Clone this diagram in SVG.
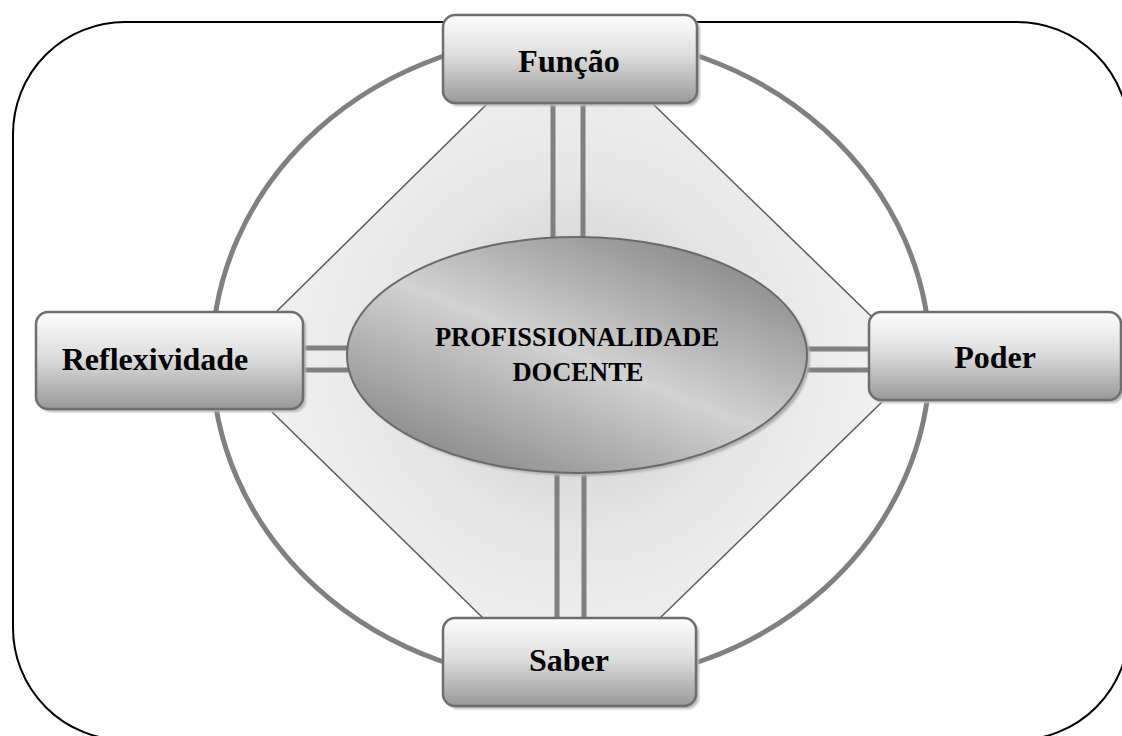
<svg xmlns="http://www.w3.org/2000/svg" width="1122" height="736" viewBox="0 0 1122 736">
<defs>
<linearGradient id="boxG" x1="0" y1="0" x2="0" y2="1">
<stop offset="0" stop-color="#fdfdfd"/>
<stop offset="0.45" stop-color="#dedede"/>
<stop offset="1" stop-color="#999999"/>
</linearGradient>
<linearGradient id="ellG" x1="0.1" y1="1" x2="0.9" y2="0">
<stop offset="0" stop-color="#7e7e7e"/>
<stop offset="0.5" stop-color="#d2d2d2"/>
<stop offset="1" stop-color="#7e7e7e"/>
</linearGradient>
<radialGradient id="bgG" cx="577" cy="358" r="330" gradientUnits="userSpaceOnUse">
<stop offset="0" stop-color="#c8c8c8"/>
<stop offset="0.55" stop-color="#e6e6e6"/>
<stop offset="1" stop-color="#f2f2f2"/>
</radialGradient>
<filter id="blur" x="-10%" y="-10%" width="120%" height="130%">
<feGaussianBlur stdDeviation="1.2"/>
</filter>
</defs>
<style>
.box{fill:url(#boxG);stroke:#6e6e6e;stroke-width:2.5}
.shadow{fill:#b8b8b8;filter:url(#blur)}
.lbl{font-family:"Liberation Serif","Times New Roman",serif;font-weight:bold;font-size:32px;fill:#000;text-anchor:middle}
.ctr{font-family:"Liberation Serif","Times New Roman",serif;font-weight:bold;font-size:26.5px;fill:#000;text-anchor:middle}
.dbl{stroke:#808080;stroke-width:5;fill:none}
.edge{stroke:#5a5a5a;stroke-width:1.5;fill:none}
</style>
<rect x="13" y="22" width="1116" height="718" rx="112" ry="112" fill="#fff" stroke="#000" stroke-width="2"/>
<ellipse cx="571" cy="359" rx="359" ry="324" fill="none" stroke="#808080" stroke-width="5"/>
<g id="connectors">
<polygon points="487,103 653,103 872,317 882,402 660,618 483,618 272,412 277,310" fill="url(#bgG)"/>
<line class="edge" x1="487" y1="104" x2="277" y2="311"/>
<line class="edge" x1="653" y1="104" x2="872" y2="317"/>
<line class="edge" x1="272" y1="412" x2="483" y2="618"/>
<line class="edge" x1="882" y1="402" x2="660" y2="618"/>
<line class="dbl" x1="553" y1="103" x2="553" y2="240"/>
<line class="dbl" x1="583" y1="103" x2="583" y2="240"/>
<line class="dbl" x1="557" y1="468" x2="557" y2="618"/>
<line class="dbl" x1="584" y1="468" x2="584" y2="618"/>
<line class="dbl" x1="303" y1="348" x2="352" y2="348"/>
<line class="dbl" x1="303" y1="370" x2="352" y2="370"/>
<line class="dbl" x1="802" y1="349" x2="869" y2="349"/>
<line class="dbl" x1="802" y1="370" x2="869" y2="370"/>
</g>
<g id="center">
<ellipse cx="580" cy="358" rx="230" ry="118" fill="#b0b0b0" filter="url(#blur)"/>
<ellipse cx="577" cy="355" rx="230" ry="118" fill="url(#ellG)" stroke="#6a6a6a" stroke-width="2"/>
<text class="ctr" x="577" y="346">PROFISSIONALIDADE</text>
<text class="ctr" x="578" y="381">DOCENTE</text>
</g>
<g id="funcao">
<rect class="shadow" x="446" y="18" width="254" height="88" rx="12"/>
<rect class="box" x="443" y="15" width="254" height="88" rx="12"/>
<text class="lbl" x="569" y="72">Função</text>
</g>
<g id="reflexividade">
<rect class="shadow" x="39" y="315" width="267" height="97" rx="12"/>
<rect class="box" x="36" y="312" width="267" height="97" rx="12"/>
<text class="lbl" x="155" y="370">Reflexividade</text>
</g>
<g id="poder">
<rect class="shadow" x="872" y="315" width="252" height="88" rx="12"/>
<rect class="box" x="869" y="312" width="252" height="88" rx="12"/>
<text class="lbl" x="995" y="368">Poder</text>
</g>
<g id="saber">
<rect class="shadow" x="446" y="621" width="253" height="88" rx="12"/>
<rect class="box" x="443" y="618" width="253" height="88" rx="12"/>
<text class="lbl" x="569" y="671">Saber</text>
</g>
</svg>
